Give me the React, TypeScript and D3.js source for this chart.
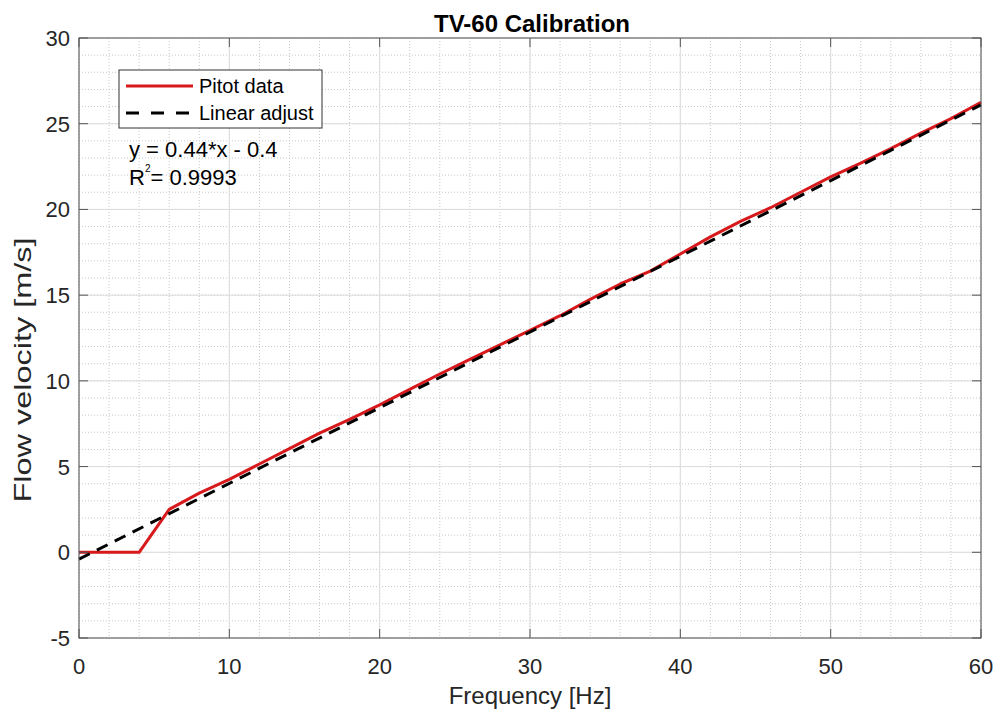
import * as d3 from "d3";

const W = 995;
const H = 709;
const MARGIN = { top: 38, right: 14, bottom: 71, left: 79 };

const freqs = [0, 2, 4, 6, 8, 10, 12, 14, 16, 18, 20, 22, 24, 26, 28, 30, 32, 34, 36, 38, 40, 42, 44, 46, 48, 50, 52, 54, 56, 58, 60];
const velocities = [0, 0, 0, 2.5, 3.45, 4.25, 5.15, 6.05, 6.95, 7.75, 8.6, 9.5, 10.4, 11.25, 12.1, 12.95, 13.8, 14.75, 15.65, 16.4, 17.4, 18.4, 19.3, 20.1, 21.0, 21.9, 22.7, 23.55, 24.45, 25.3, 26.25];

// linear fit end points
const fitX = [0, 60];
const fitY = [-0.4, 26.1];

const xTicks = [0, 10, 20, 30, 40, 50, 60];
const yTicks = [-5, 0, 5, 10, 15, 20, 25, 30];
const xMinor = d3.range(0, 61, 2);
const yMinor = d3.range(-5, 31, 1);

const FONT = "'Liberation Sans', Arial, Helvetica, sans-serif";
const TXT = "#262626";

export default function App() {
  const bw = W - MARGIN.left - MARGIN.right;
  const bh = H - MARGIN.top - MARGIN.bottom;
  const x = d3.scaleLinear().domain([0, 60]).range([0, bw]);
  const y = d3.scaleLinear().domain([-5, 30]).range([bh, 0]);

  const line = d3
    .line<[number, number]>()
    .x((d) => x(d[0]))
    .y((d) => y(d[1]));

  const pitot = freqs.map((f, i) => [f, velocities[i]] as [number, number]);
  const fit = fitX.map((f, i) => [f, fitY[i]] as [number, number]);

  return (
    <div>
      <style>{"body{margin:0}"}</style>
      <svg width={W} height={H} style={{ display: "block", fontFamily: FONT }}>
        <rect width={W} height={H} fill="#fff" />
        <text x={MARGIN.left + bw / 2 + 2} y={32} textAnchor="middle" fontSize={24} fontWeight="bold" fill="#000">
          TV-60 Calibration
        </text>
        <g transform={`translate(${MARGIN.left},${MARGIN.top})`}>
          {/* minor grid */}
          {xMinor.map((v) => (
            <line key={"xm" + v} x1={x(v)} x2={x(v)} y1={0} y2={bh} stroke="#c8c8c8" strokeWidth={1} strokeDasharray="1,2" />
          ))}
          {yMinor.map((v) => (
            <line key={"ym" + v} x1={0} x2={bw} y1={y(v)} y2={y(v)} stroke="#c8c8c8" strokeWidth={1} strokeDasharray="1,2" />
          ))}
          {/* major grid */}
          {xTicks.map((v) => (
            <line key={"xg" + v} x1={x(v)} x2={x(v)} y1={0} y2={bh} stroke="#dcdcdc" strokeWidth={1} />
          ))}
          {yTicks.map((v) => (
            <line key={"yg" + v} x1={0} x2={bw} y1={y(v)} y2={y(v)} stroke="#dcdcdc" strokeWidth={1} />
          ))}

          {/* data */}
          <path d={line(pitot) ?? ""} fill="none" stroke="#d7191c" strokeWidth={3} strokeLinejoin="round" />
          <path d={line(fit) ?? ""} fill="none" stroke="#000" strokeWidth={3} strokeDasharray="12,8" />

          {/* box + ticks */}
          <rect x={0} y={0} width={bw} height={bh} fill="none" stroke="#555" strokeWidth={1} />
          {xTicks.map((v) => (
            <g key={"xt" + v}>
              <line x1={x(v)} x2={x(v)} y1={bh} y2={bh - 9} stroke="#555" />
              <line x1={x(v)} x2={x(v)} y1={0} y2={9} stroke="#555" />
              <text x={x(v)} y={bh + 36} textAnchor="middle" fontSize={22} fill={TXT}>
                {v}
              </text>
            </g>
          ))}
          {yTicks.map((v) => (
            <g key={"yt" + v}>
              <line x1={0} x2={9} y1={y(v)} y2={y(v)} stroke="#555" />
              <line x1={bw} x2={bw - 9} y1={y(v)} y2={y(v)} stroke="#555" />
              <text x={-9} y={y(v) + 8} textAnchor="end" fontSize={22} fill={TXT}>
                {v}
              </text>
            </g>
          ))}
        </g>

        {/* axis labels */}
        <text x={MARGIN.left + bw / 2} y={704} textAnchor="middle" fontSize={24} fill={TXT}>
          Frequency [Hz]
        </text>
        <text
          transform={`translate(31,370) rotate(-90)`}
          textAnchor="middle"
          fontSize={24}
          fill={TXT}
          textLength={265}
          lengthAdjust="spacingAndGlyphs"
        >
          Flow velocity [m/s]
        </text>

        {/* legend */}
        <rect x={119} y={70} width={203} height={58} fill="#fff" stroke="#333" strokeWidth={1} />
        <line x1={126} x2={193} y1={86} y2={86} stroke="#d7191c" strokeWidth={3} />
        <line x1={126} x2={193} y1={113} y2={113} stroke="#000" strokeWidth={3} strokeDasharray="13,12" />
        <text x={199} y={93} fontSize={20} fill="#000">Pitot data</text>
        <text x={199} y={120} fontSize={20} fill="#000">Linear adjust</text>

        {/* fit annotation */}
        <text x={129} y={157} fontSize={22} fill="#000">y = 0.44*x - 0.4</text>
        <text x={129} y={185} fontSize={22} fill="#000">
          R<tspan fontSize={10} dy={-13}>2</tspan>
          <tspan dy={13}>= 0.9993</tspan>
        </text>
      </svg>
    </div>
  );
}
